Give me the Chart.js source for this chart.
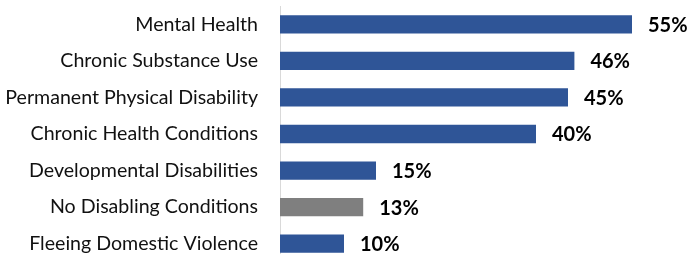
<!DOCTYPE html>
<html>
<head>
<meta charset="utf-8">
<script src="https://cdn.jsdelivr.net/npm/chart.js@4"></script>
<style>
  html, body { margin: 0; padding: 0; background: #fff; overflow: hidden; }
</style>
</head>
<body>
<canvas id="condChart" width="692" height="262"></canvas>
<script>
// disabling conditions chart
var categories = ["Mental Health", "Chronic Substance Use", "Permanent Physical Disability",
    "Chronic Health Conditions", "Developmental Disabilities", "No Disabling Conditions",
    "Fleeing Domestic Violence"];
var percents = [55, 46, 45, 40, 15, 13, 10];
var barColors = ['#2F5597', '#2F5597', '#2F5597', '#2F5597', '#2F5597', '#7F7F7F', '#2F5597'];

// draws the "55%" style labels after each bar
var valueLabels = {
    id: 'valueLabels',
    afterDatasetsDraw: function (chart) {
        var c = chart.ctx;
        var meta = chart.getDatasetMeta(0);
        c.save();
        c.font = 'bold 20px Lato';
        c.fillStyle = '#000';
        c.textAlign = 'left';
        c.textBaseline = 'middle';
        meta.data.forEach(function (bar, i) {
            c.fillText(percents[i] + '%', bar.x + 16, bar.y + 1);
        });
        c.restore();
    }
};

var ctx = document.getElementById("condChart");
var condChart = new Chart(ctx, {
    type: 'bar',
    data: {
        labels: categories,
        datasets: [{
            data: percents,
            backgroundColor: barColors,
            borderWidth: 0,
            barPercentage: 0.5,
            categoryPercentage: 1
        }]
    },
    options: {
        indexAxis: 'y',
        responsive: false,
        animation: false,
        layout: { padding: { top: 6, right: 28, bottom: 0, left: 0 } },
        plugins: { legend: { display: false }, tooltip: { enabled: false } },
        scales: {
            x: { display: false, min: 0, max: 60 },
            y: {
                afterFit: function (s) {
                    s.width = 280;
                    s.paddingTop = 0;
                    s.paddingBottom = 0;
                },
                grid: { display: false, drawTicks: false },
                border: { display: true, color: '#D9D9D9', width: 1 },
                ticks: { padding: 22, color: '#111', font: { family: 'Lato', size: 19.6 } }
            }
        }
    },
    plugins: [valueLabels]
});
</script>
</body>
</html>
